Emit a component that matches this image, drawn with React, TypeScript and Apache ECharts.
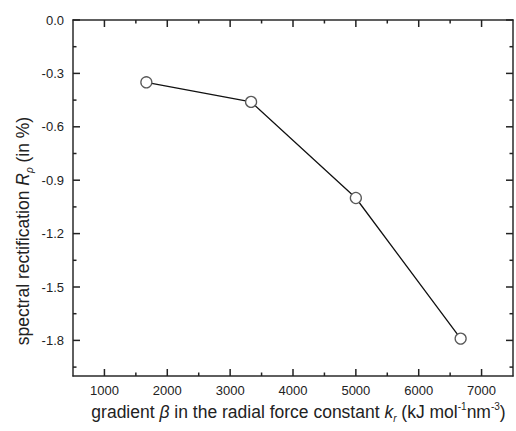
import React, { useEffect, useRef } from "react";
import * as echarts from "echarts";

// gradient β (kJ mol^-1 nm^-3) and the spectral rectification R_ρ (%)
const gradients = [1667, 3333, 5000, 6667];
const rectification = [-0.35, -0.46, -1.0, -1.79];

// axis ranges and tick positions
const xRange = [500, 7500];
const yRange = [-2.0, 0];
const xMajor = [1000, 2000, 3000, 4000, 5000, 6000, 7000];
const xMinor = [1500, 2500, 3500, 4500, 5500, 6500];
const yMajor = [0, -0.3, -0.6, -0.9, -1.2, -1.5, -1.8];
const yMinor = [-0.15, -0.45, -0.75, -1.05, -1.35, -1.65, -1.95];

const FONT = "Liberation Sans, Arial, sans-serif";
const INK = "#222";
const MAJOR_LEN = 7;
const MINOR_LEN = 3.5;

const isIn = (list: number[], v: number) => list.some((t) => Math.abs(t - v) < 1e-6);

type Side = "bottom" | "top" | "left" | "right";

// one custom series per side and tick size, each tick pointing into the frame
const tickSeries = (side: Side, values: number[], len: number) => {
  const horizontal = side === "bottom" || side === "top";
  return {
    type: "custom",
    xAxisIndex: 0,
    yAxisIndex: 0,
    clip: false,
    data: values.map((v) => (horizontal ? [v, yRange[0]] : [xRange[0], v])),
    renderItem: (params: any, api: any) => {
      const cs = params.coordSys;
      const pt = api.coord([api.value(0), api.value(1)]);
      let shape;
      if (side === "bottom") {
        const e = cs.y + cs.height;
        shape = { x1: pt[0], y1: e, x2: pt[0], y2: e - len };
      } else if (side === "top") {
        shape = { x1: pt[0], y1: cs.y, x2: pt[0], y2: cs.y + len };
      } else if (side === "left") {
        shape = { x1: cs.x, y1: pt[1], x2: cs.x + len, y2: pt[1] };
      } else {
        const e = cs.x + cs.width;
        shape = { x1: e, y1: pt[1], x2: e - len, y2: pt[1] };
      }
      return { type: "line", shape, style: { stroke: INK, lineWidth: 1.5 } };
    },
  };
};

export default function App() {
  const ref = useRef<HTMLDivElement>(null);

  useEffect(() => {
    if (!ref.current) return;
    const chart = echarts.init(ref.current, null, { renderer: "svg" });

    const lineStyle = { color: "#2a2a2a", width: 1.5 };
    const label = { color: INK, fontFamily: FONT, fontSize: 13 };

    const rich = (size: number) => ({
      i: { fontStyle: "italic", fontFamily: FONT, fontSize: size, fill: INK, lineHeight: 22 },
      sub: { fontStyle: "italic", fontFamily: FONT, fontSize: 10, fill: INK, verticalAlign: "bottom", lineHeight: 22 },
      sup: { fontFamily: FONT, fontSize: 10, fill: INK, verticalAlign: "top", lineHeight: 22 },
    });

    chart.setOption({
      animation: false,
      grid: { left: 73, top: 20, width: 442, height: 356 },
      xAxis: [
        {
          type: "value",
          min: xRange[0],
          max: xRange[1],
          interval: 500,
          axisLine: { show: true, onZero: false, lineStyle },
          axisTick: { show: false },
          axisLabel: { ...label, margin: 8, formatter: (v: number) => (isIn(xMajor, v) ? String(v) : "") },
          splitLine: { show: false },
        },
        {
          type: "value",
          position: "top",
          min: xRange[0],
          max: xRange[1],
          interval: 500,
          axisLine: { show: true, onZero: false, lineStyle },
          axisTick: { show: false },
          axisLabel: { show: false },
          splitLine: { show: false },
        },
      ],
      yAxis: [
        {
          type: "value",
          min: yRange[0],
          max: yRange[1],
          interval: 0.1,
          axisLine: { show: true, onZero: false, lineStyle },
          axisTick: { show: false },
          axisLabel: { ...label, margin: 9, formatter: (v: number) => (isIn(yMajor, v) ? Math.abs(v) < 1e-9 ? "0.0" : v.toFixed(1) : "") },
          splitLine: { show: false },
        },
        {
          type: "value",
          position: "right",
          min: yRange[0],
          max: yRange[1],
          interval: 0.1,
          axisLine: { show: true, onZero: false, lineStyle },
          axisTick: { show: false },
          axisLabel: { show: false },
          splitLine: { show: false },
        },
      ],
      graphic: [
        {
          type: "text",
          x: 298.5,
          y: 412,
          style: {
            text: "gradient {i|β} in the radial force constant {i|k}{sub|r} (kJ mol{sup|-1}nm{sup|-3})",
            fontFamily: FONT,
            fontSize: 17.5,
            fill: INK,
            align: "center",
            verticalAlign: "middle",
            lineHeight: 22,
            rich: rich(17.5),
          },
        },
        {
          type: "text",
          x: 23,
          y: 231,
          rotation: Math.PI / 2,
          style: {
            text: "spectral rectification {i|R}{sub|ρ} (in %)",
            fontFamily: FONT,
            fontSize: 17.5,
            fill: INK,
            align: "center",
            verticalAlign: "middle",
            lineHeight: 22,
            rich: rich(17.5),
          },
        },
      ],
      series: [
        tickSeries("bottom", xMajor, MAJOR_LEN),
        tickSeries("bottom", xMinor, MINOR_LEN),
        tickSeries("top", xMajor, MAJOR_LEN),
        tickSeries("top", xMinor, MINOR_LEN),
        tickSeries("left", yMajor, MAJOR_LEN),
        tickSeries("left", yMinor, MINOR_LEN),
        tickSeries("right", yMajor, MAJOR_LEN),
        tickSeries("right", yMinor, MINOR_LEN),
        {
          type: "line",
          xAxisIndex: 0,
          yAxisIndex: 0,
          data: gradients.map((g, i) => [g, rectification[i]]),
          symbol: "circle",
          symbolSize: 11,
          lineStyle: { color: "#111", width: 1.3 },
          itemStyle: { color: "#fff", borderColor: "#5a5a5a", borderWidth: 1.3 },
        },
      ],
    });

    return () => chart.dispose();
  }, []);

  return (
    <div
      ref={ref}
      style={{ position: "fixed", left: 0, top: 0, width: 516, height: 431, background: "#fff" }}
    />
  );
}
